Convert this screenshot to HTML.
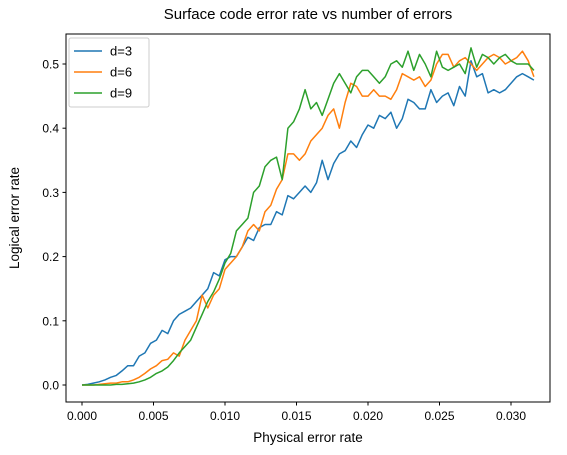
<!DOCTYPE html>
<html><head><meta charset="utf-8"><style>
body{margin:0;background:#fff;}
svg{display:block;font-family:"Liberation Sans","DejaVu Sans",sans-serif;}
</style></head><body>
<svg width="567" height="455" id="c">
<rect x="0" y="0" width="567" height="455" fill="#fff"/>
<text x="308" y="19" font-size="15" text-anchor="middle">Surface code error rate vs number of errors</text>
<text x="308" y="442" font-size="13.5" text-anchor="middle">Physical error rate</text>
<text x="19" y="218" font-size="13.5" text-anchor="middle" transform="rotate(-90 19 218)">Logical error rate</text>
<g id="ticks"></g>
<g id="lines"></g>
<rect x="66" y="34" width="484" height="368" fill="none" stroke="#000" stroke-width="1"/>
<g>
<rect x="69" y="38" width="80" height="69" fill="#fff" fill-opacity="0.8" stroke="#ccc" rx="2"/>
<line x1="74" y1="51" x2="102" y2="51" stroke="#1f77b4" stroke-width="1.5"/>
<text x="110" y="55.5" font-size="13">d=3</text>
<line x1="74" y1="72" x2="102" y2="72" stroke="#ff7f0e" stroke-width="1.5"/>
<text x="110" y="76.5" font-size="13">d=6</text>
<line x1="74" y1="93" x2="102" y2="93" stroke="#2ca02c" stroke-width="1.5"/>
<text x="110" y="97.5" font-size="13">d=9</text>
</g>
</svg>
<script>
const xTicks=[0,0.005,0.010,0.015,0.020,0.025,0.030];
const xTickLabels=["0.000","0.005","0.010","0.015","0.020","0.025","0.030"];
const yTicks=[0,0.1,0.2,0.3,0.4,0.5];
const yTickLabels=["0.0","0.1","0.2","0.3","0.4","0.5"];
const xStep=0.0004;
const d3=[0,0.001,0.003,0.005,0.008,0.012,0.015,0.022,0.03,0.03,0.045,0.05,0.065,0.07,0.085,0.08,0.1,0.11,0.115,0.12,0.13,0.14,0.15,0.175,0.17,0.195,0.2,0.2,0.215,0.23,0.225,0.245,0.25,0.25,0.27,0.265,0.295,0.29,0.3,0.31,0.3,0.315,0.35,0.32,0.345,0.36,0.365,0.38,0.37,0.39,0.405,0.4,0.42,0.415,0.425,0.40,0.415,0.445,0.44,0.43,0.43,0.46,0.44,0.45,0.455,0.435,0.465,0.45,0.505,0.48,0.485,0.455,0.46,0.455,0.46,0.47,0.48,0.485,0.48,0.475];
const d6=[0,0,0,0.001,0.002,0.003,0.003,0.005,0.005,0.008,0.012,0.018,0.025,0.03,0.038,0.04,0.05,0.045,0.07,0.085,0.1,0.14,0.12,0.14,0.15,0.18,0.19,0.2,0.215,0.24,0.25,0.24,0.27,0.28,0.305,0.32,0.36,0.36,0.35,0.36,0.38,0.39,0.4,0.42,0.43,0.4,0.44,0.47,0.465,0.45,0.45,0.46,0.45,0.45,0.445,0.46,0.485,0.48,0.475,0.48,0.465,0.475,0.5,0.515,0.515,0.495,0.505,0.51,0.5,0.49,0.5,0.51,0.515,0.51,0.5,0.505,0.51,0.52,0.505,0.48];
const d9=[0,0,0,0,0,0,0.001,0.001,0.002,0.003,0.005,0.008,0.012,0.018,0.022,0.028,0.038,0.05,0.06,0.07,0.09,0.11,0.13,0.145,0.165,0.19,0.205,0.24,0.25,0.26,0.3,0.31,0.34,0.35,0.355,0.32,0.4,0.41,0.43,0.46,0.43,0.44,0.42,0.445,0.47,0.485,0.47,0.455,0.48,0.49,0.49,0.48,0.47,0.48,0.5,0.505,0.495,0.52,0.49,0.515,0.5,0.48,0.52,0.495,0.49,0.495,0.5,0.485,0.525,0.495,0.515,0.51,0.5,0.51,0.515,0.505,0.5,0.5,0.5,0.49];
const NS="http://www.w3.org/2000/svg";
function xs(v){return 82+v*14300;}
function ys(v){return 385-v*642;}
const tg=document.getElementById('ticks');
xTicks.forEach((t,i)=>{
 const l=document.createElementNS(NS,'line');
 l.setAttribute('x1',xs(t));l.setAttribute('x2',xs(t));l.setAttribute('y1',402);l.setAttribute('y2',405.5);l.setAttribute('stroke','#000');
 
 
 tg.appendChild(l);
 const tx=document.createElementNS(NS,'text');
 tx.setAttribute('x',xs(t));tx.setAttribute('y',420);tx.setAttribute('font-size','12');tx.setAttribute('text-anchor','middle');
 tx.textContent=xTickLabels[i];
 
 
 tg.appendChild(tx);
});
yTicks.forEach((t,i)=>{
 const l=document.createElementNS(NS,'line');
 l.setAttribute('x1',62.5);l.setAttribute('x2',66);l.setAttribute('y1',ys(t));l.setAttribute('y2',ys(t));l.setAttribute('stroke','#000');
 
 
 tg.appendChild(l);
 const tx=document.createElementNS(NS,'text');
 tx.setAttribute('x',59);tx.setAttribute('y',ys(t)+4.5);tx.setAttribute('font-size','12');tx.setAttribute('text-anchor','end');
 tx.textContent=yTickLabels[i];
 
 
 tg.appendChild(tx);
});
const lg=document.getElementById('lines');
[[d3,'#1f77b4','line-d3'],[d6,'#ff7f0e','line-d6'],[d9,'#2ca02c','line-d9']].forEach(s=>{
 const p=document.createElementNS(NS,'polyline');
 p.setAttribute('points',s[0].map((v,i)=>xs(i*xStep).toFixed(1)+','+ys(v).toFixed(1)).join(' '));
 p.setAttribute('fill','none');p.setAttribute('stroke',s[1]);p.setAttribute('stroke-width','1.5');p.setAttribute('stroke-linejoin','round');
 
 
 lg.appendChild(p);
});
</script>
</body></html>
